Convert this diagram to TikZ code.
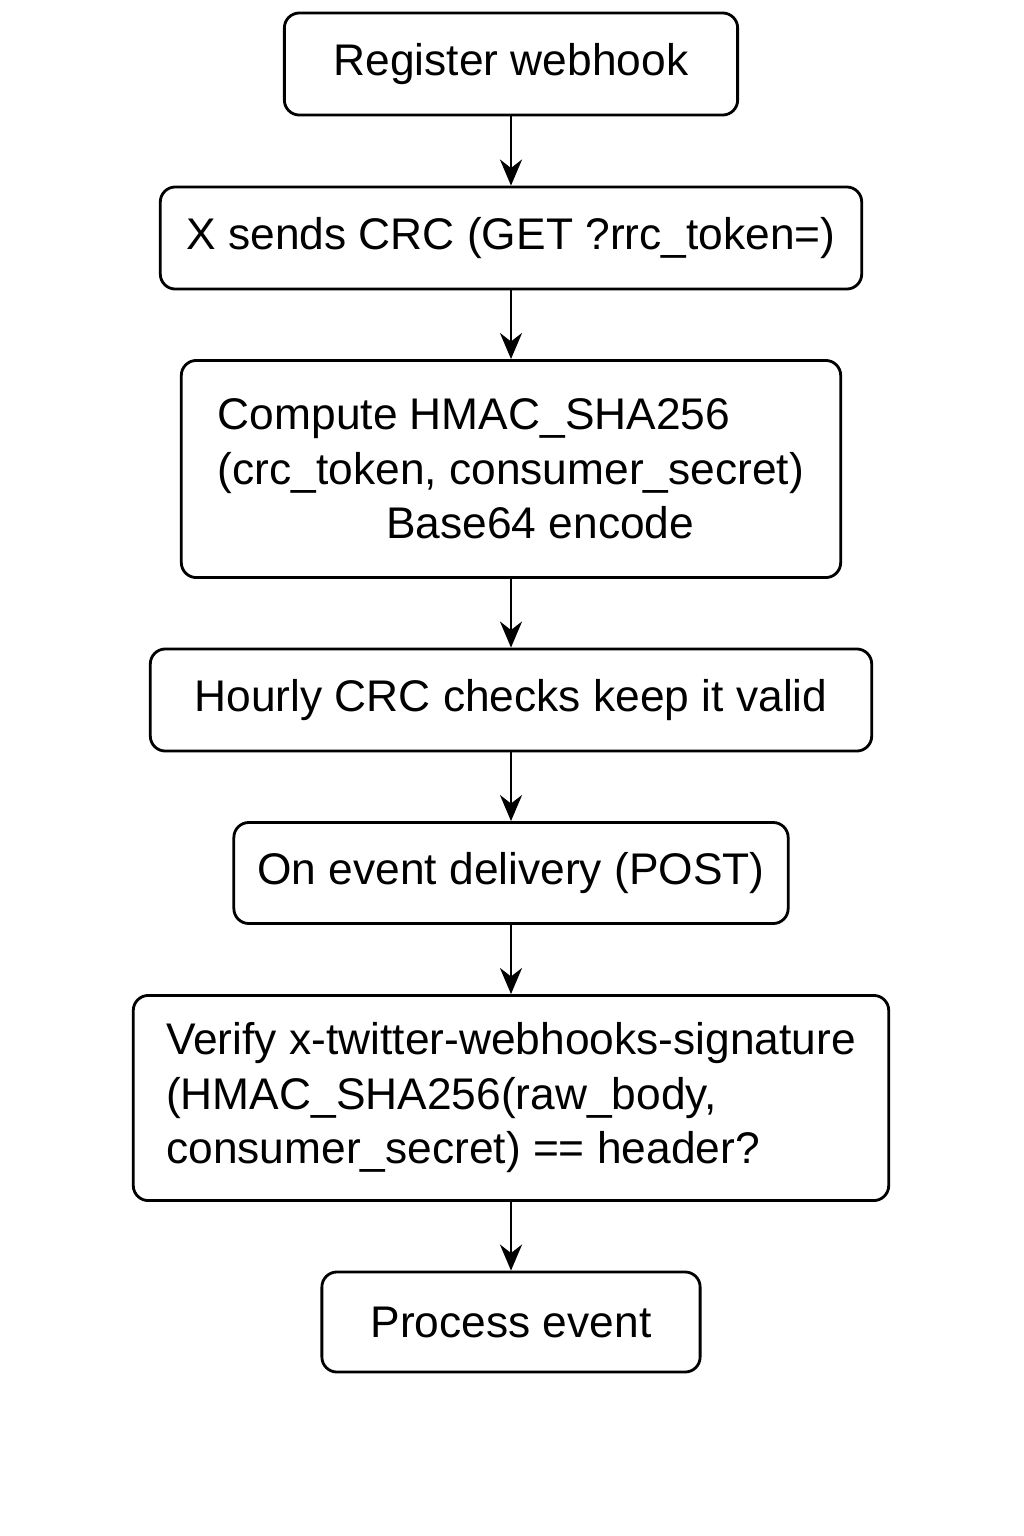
\documentclass[tikz,border=0pt]{standalone}
\usepackage{fontspec}
\setmainfont{Liberation Sans}
\usetikzlibrary{arrows.meta}
\tikzset{
    stage/.style={draw=black, line width=0.8pt, rounded corners=0.15cm, inner sep=0, font=\fontsize{12.6}{15.5}\selectfont},
    flow/.style={-{Stealth[length=2.6mm,width=2.2mm]}, line width=0.8pt}
}
\begin{document}
\begin{tikzpicture}[x=0.01cm,y=-0.01cm]
    \useasboundingbox (0,0) rectangle (1024,1536);
    \node[stage, minimum width=4.53cm, minimum height=1.02cm] (register) at (511,64) {Register webhook};
    \node[stage, minimum width=7.01cm, minimum height=1.02cm] (crc) at (511,238) {X sends CRC (GET ?rrc\_token=)};
    \node[stage, minimum width=6.59cm, minimum height=2.17cm, align=left] (compute) at (511,469)
        {Compute HMAC\_SHA256\\(crc\_token, consumer\_secret)\\\hspace*{3.8em}Base64 encode};
    \node[stage, minimum width=7.21cm, minimum height=1.02cm] (hourly) at (511,700) {Hourly CRC checks keep it valid};
    \node[stage, minimum width=5.54cm, minimum height=1.01cm] (event) at (511,873) {On event delivery (POST)};
    \node[stage, minimum width=7.55cm, minimum height=2.05cm, align=left] (verify) at (511,1098)
        {Verify x-twitter-webhooks-signature\\(HMAC\_SHA256(raw\_body,\\consumer\_secret) == header?};
    \node[stage, minimum width=3.78cm, minimum height=1.0cm] (process) at (511,1322) {Process event};
    \draw[flow] (register) -- (crc);
    \draw[flow] (crc) -- (compute);
    \draw[flow] (compute) -- (hourly);
    \draw[flow] (hourly) -- (event);
    \draw[flow] (event) -- (verify);
    \draw[flow] (verify) -- (process);
\end{tikzpicture}
\end{document}
